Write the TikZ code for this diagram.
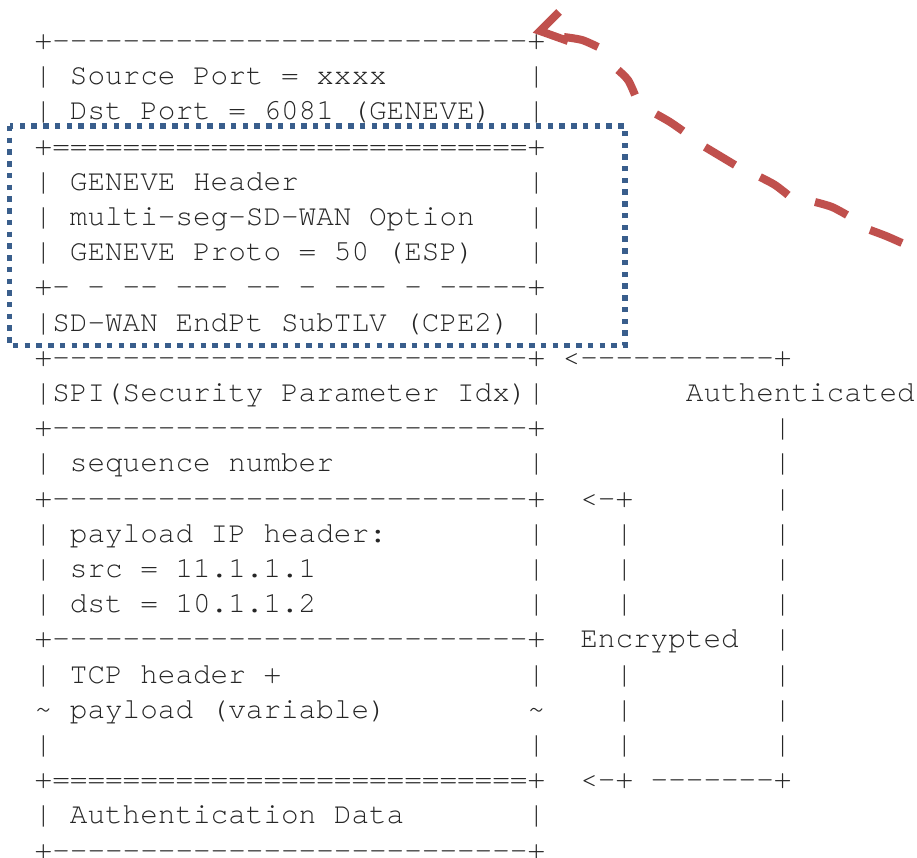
\documentclass[tikz,border=0pt]{standalone}
\usepackage{fontspec}
\setmonofont{TeX Gyre Cursor}
\definecolor{boxblue}{RGB}{57,94,140}
\definecolor{arrowred}{RGB}{192,80,77}
% one character cell: 17.6 units wide, one text row: 35.2 units high
\newcommand\seg[4]{\node[seg] (#1) at ({34.7+17.6*(#2)},{49.5+35.2*(#3)}) {#4};}
\begin{document}
\begin{tikzpicture}[x=0.75pt,y=-0.75pt,
  seg/.style={anchor=base west,inner sep=0pt,outer sep=0pt,text=black!85,
    font=\ttfamily\fontsize{22}{26}\selectfont},
  hilite/.style={draw=boxblue,line width=4.1pt,dash pattern=on 4.1pt off 4.7pt},
  redstroke/.style={draw=arrowred,line width=6pt}]
\useasboundingbox (0,0) rectangle (917,857);
\frenchspacing
% packet layout
\seg{r0}{0}{0}{+---------------------------+}
\seg{r1a}{0}{1}{|}\seg{r1b}{2}{1}{Source Port = xxxx}\seg{r1c}{28}{1}{|}
\seg{r2a}{0}{2}{|}\seg{r2b}{2}{2}{Dst Port = 6081 (GENEVE)}\seg{r2c}{28}{2}{|}
\seg{r3}{0}{3}{+===========================+}
\seg{r4a}{0}{4}{|}\seg{r4b}{2}{4}{GENEVE Header}\seg{r4c}{28}{4}{|}
\seg{r5a}{0}{5}{|}\seg{r5b}{2}{5}{multi-seg-SD-WAN Option}\seg{r5c}{28}{5}{|}
\seg{r6a}{0}{6}{|}\seg{r6b}{2}{6}{GENEVE Proto = 50 (ESP)}\seg{r6c}{28}{6}{|}
\seg{r7}{0}{7}{+- - -- --- -- - --- - -----+}
\seg{r8a}{0}{8}{|SD-WAN EndPt SubTLV (CPE2)}\seg{r8c}{28}{8}{|}
\seg{r9a}{0}{9}{+---------------------------+}\seg{r9b}{30}{9}{<-----------+}
\seg{r10a}{0}{10}{|SPI(Security Parameter Idx)|}\seg{r10b}{37}{10}{Authenticated}
\seg{r11a}{0}{11}{+---------------------------+}\seg{r11b}{42}{11}{|}
\seg{r12a}{0}{12}{|}\seg{r12b}{2}{12}{sequence number}\seg{r12c}{28}{12}{|}\seg{r12d}{42}{12}{|}
\seg{r13a}{0}{13}{+---------------------------+}\seg{r13b}{31}{13}{<-+}\seg{r13c}{42}{13}{|}
\seg{r14a}{0}{14}{|}\seg{r14b}{2}{14}{payload IP header:}\seg{r14c}{28}{14}{|}\seg{r14d}{33}{14}{|}\seg{r14e}{42}{14}{|}
\seg{r15a}{0}{15}{|}\seg{r15b}{2}{15}{src = 11.1.1.1}\seg{r15c}{28}{15}{|}\seg{r15d}{33}{15}{|}\seg{r15e}{42}{15}{|}
\seg{r16a}{0}{16}{|}\seg{r16b}{2}{16}{dst = 10.1.1.2}\seg{r16c}{28}{16}{|}\seg{r16d}{33}{16}{|}\seg{r16e}{42}{16}{|}
\seg{r17a}{0}{17}{+---------------------------+}\seg{r17b}{31}{17}{Encrypted}\seg{r17c}{42}{17}{|}
\seg{r18a}{0}{18}{|}\seg{r18b}{2}{18}{TCP header +}\seg{r18c}{28}{18}{|}\seg{r18d}{33}{18}{|}\seg{r18e}{42}{18}{|}
\seg{r19a}{0}{19}{\textasciitilde}\seg{r19b}{2}{19}{payload (variable)}\seg{r19c}{28}{19}{\textasciitilde}\seg{r19d}{33}{19}{|}\seg{r19e}{42}{19}{|}
\seg{r20a}{0}{20}{|}\seg{r20c}{28}{20}{|}\seg{r20d}{33}{20}{|}\seg{r20e}{42}{20}{|}
\seg{r21a}{0}{21}{+===========================+}\seg{r21b}{31}{21}{<-+ -------+}
\seg{r22a}{0}{22}{|}\seg{r22b}{2}{22}{Authentication Data}\seg{r22c}{28}{22}{|}
\seg{r23}{0}{23}{+---------------------------+}
% dotted frame round the GENEVE part
\draw[hilite] (9.5,126) rectangle (625,345.5);
% hand-drawn dashed arrow pointing at the outer header
\draw[redstroke,line join=miter] (559,12) -- (540,31) -- (568,41);
\draw[redstroke]
  plot[smooth] coordinates {(564,37) (582,40) (598,47)}
  plot[smooth] coordinates {(618,70) (628,80) (635,95)}
  plot[smooth] coordinates {(656,114) (670,122) (683,131)}
  plot[smooth] coordinates {(705,147) (720,156) (735,165)}
  plot[smooth] coordinates {(760,177) (775,185) (788,195)}
  plot[smooth] coordinates {(815,202) (832,207) (847,215)}
  plot[smooth] coordinates {(870,230) (886,236) (902,243)};
\end{tikzpicture}
\end{document}
